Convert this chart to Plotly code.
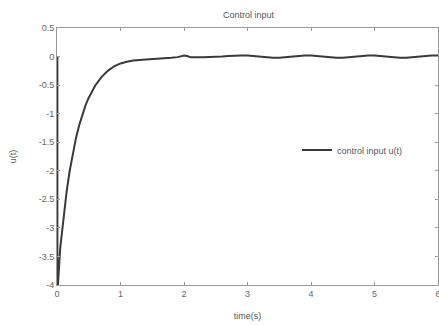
import plotly.graph_objects as go

t_vals = [0.006, 0.006, 0.015, 0.05, 0.1, 0.15, 0.2, 0.25, 0.3, 0.35, 0.4, 0.45, 0.5, 0.6, 0.7, 0.8, 0.9, 1.0,
          1.1, 1.2, 1.4, 1.6, 1.8, 1.9, 1.95, 2.0, 2.05, 2.1, 2.3, 2.5, 2.6, 2.7, 2.8, 2.9, 3.0, 3.1,
          3.2, 3.3, 3.4, 3.5, 3.6, 3.7, 3.8, 3.9, 4.0, 4.1, 4.2, 4.3, 4.4, 4.5, 4.6, 4.7, 4.8, 4.9,
          5.0, 5.1, 5.2, 5.3, 5.4, 5.5, 5.6, 5.7, 5.8, 5.9, 6.0]
u_vals = [0.0, -4.0, -4.0, -3.36, -2.82, -2.38, -2.0, -1.69, -1.42, -1.2, -1.01, -0.85, -0.72, -0.51, -0.36, -0.25, -0.17, -0.12,
          -0.09, -0.07, -0.05, -0.04, -0.02, -0.01, 0.01, 0.02, 0.01, -0.01, -0.01, -0.01, 0.0, 0.01, 0.02, 0.02, 0.02, 0.01,
          -0.01, -0.02, -0.02, -0.02, -0.01, 0.01, 0.02, 0.02, 0.02, 0.01, -0.01, -0.02, -0.02, -0.02, -0.01, 0.01, 0.02, 0.02,
          0.02, 0.01, -0.01, -0.02, -0.02, -0.02, -0.01, 0.01, 0.02, 0.02, 0.02]

x_ticks = [0, 1, 2, 3, 4, 5, 6]
y_ticks = [0.5, 0, -0.5, -1, -1.5, -2, -2.5, -3, -3.5, -4]
y_labels = ["0.5", "0", "-0.5", "-1", "-1.5", "-2", "-2.5", "-3", "-3.5", "-4"]

fig = go.Figure()
fig.add_trace(go.Scatter(x=t_vals, y=u_vals, mode="lines", name="control input u(t)",
                         line=dict(color="#3a3a3a", width=2)))

axis_common = dict(showline=True, linecolor="#999", linewidth=1, mirror="ticks", ticks="inside",
                   ticklen=3, tickcolor="#999", showgrid=False, zeroline=False,
                   ticklabeloverflow="allow", automargin=False,
                   tickfont=dict(family="Liberation Sans, Arial", size=9, color="#666"))

fig.update_layout(
    width=439, height=325,
    margin=dict(l=57, r=1, t=28, b=40),
    paper_bgcolor="white", plot_bgcolor="white",
    title=dict(text="Control input", x=0.566, xanchor="center", y=0.955, yanchor="middle",
               font=dict(family="Liberation Sans, Arial", size=9, color="#555")),
    xaxis=dict(range=[0, 6], tickvals=x_ticks, title=dict(text="time(s)", standoff=14,
               font=dict(family="Liberation Sans, Arial", size=9, color="#555")), **axis_common),
    yaxis=dict(range=[-4, 0.5], tickvals=y_ticks, ticktext=y_labels,
               title=dict(text="u(t)", standoff=20,
                          font=dict(family="Liberation Sans, Arial", size=9, color="#555")), **axis_common),
    legend=dict(x=0.63, y=0.525, xanchor="left", yanchor="middle", bgcolor="rgba(0,0,0,0)",
                font=dict(family="Liberation Sans, Arial", size=9, color="#555"), itemwidth=30),
    showlegend=True,
)

fig.write_html("out.html")
